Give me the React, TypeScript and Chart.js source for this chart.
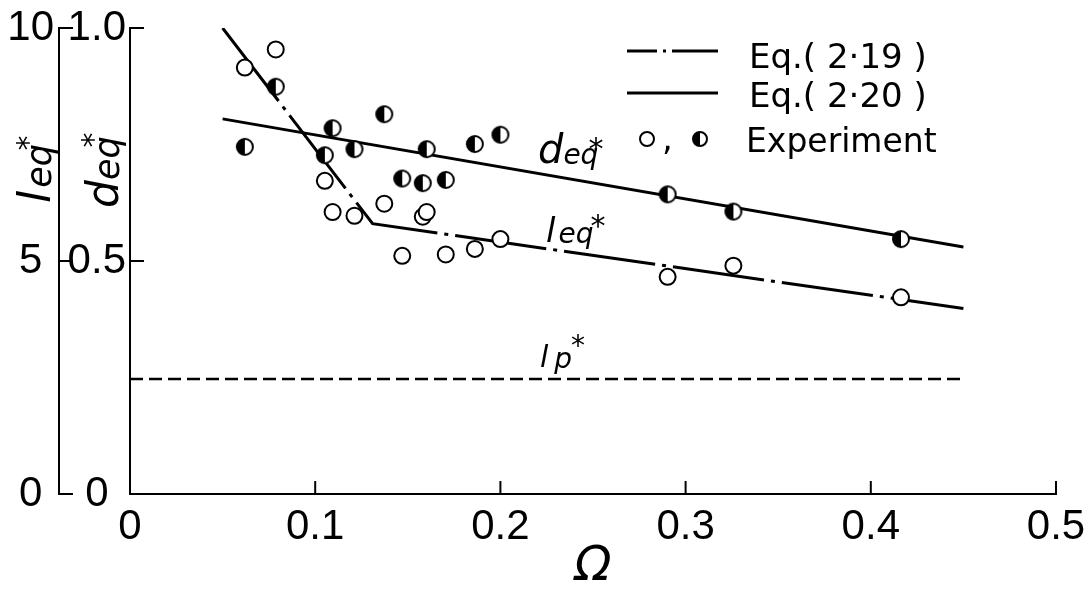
import React, { useEffect, useRef } from "react";
import { Chart, registerables } from "chart.js";

Chart.register(...registerables);

// ---- data ----
const omega = [0.062, 0.0787, 0.1052, 0.1094, 0.1212, 0.1373, 0.147, 0.1581, 0.1602, 0.1705, 0.1862, 0.2, 0.2903, 0.3258, 0.4163];
const deqExp = [0.745, 0.874, 0.727, 0.785, 0.74, 0.815, 0.677, 0.667, 0.74, 0.674, 0.751, 0.771, 0.643, 0.606, 0.547];
const leqExp = [0.915, 0.954, 0.672, 0.605, 0.597, 0.623, 0.511, 0.595, 0.605, 0.514, 0.526, 0.547, 0.466, 0.49, 0.422];

const eq219Omega = [0.05, 0.131, 0.45];
const eq219Values = [1.0, 0.58, 0.398];
const eq220Omega = [0.05, 0.45];
const eq220Values = [0.805, 0.53];
const lpOmega = [0, 0.45];
const lpValues = [0.247, 0.247];

const xTickValues = [0, 0.1, 0.2, 0.3, 0.4, 0.5];
const xTickLabels = ["0", "0.1", "0.2", "0.3", "0.4", "0.5"];
const yTickValues = [0, 0.5, 1.0];
const yTickLabels = ["0", "0.5", "1.0"];
const y2TickValues = [0, 5, 10];
const y2TickLabels = ["0", "5", "10"];

const legendLabels = ["Eq.( 2·19 )", "Eq.( 2·20 )", "Experiment"];

const FONT = "'DejaVu Sans', sans-serif";
const TICK_FONT = "'Liberation Sans', Arial, sans-serif";

function makeHalfMarker(r: number, lw: number): HTMLCanvasElement {
  const s = Math.ceil(2 * r + lw + 2);
  const c = document.createElement("canvas");
  c.width = s;
  c.height = s;
  const g = c.getContext("2d")!;
  drawHalf(g, s / 2, s / 2, r, lw);
  return c;
}

function drawHalf(g: CanvasRenderingContext2D, cx: number, cy: number, r: number, lw: number) {
  g.save();
  g.setLineDash([]);
  g.fillStyle = "#fff";
  g.beginPath();
  g.arc(cx, cy, r, 0, Math.PI * 2);
  g.fill();
  g.fillStyle = "#000";
  g.beginPath();
  g.arc(cx, cy, r, Math.PI / 2, Math.PI * 1.5);
  g.closePath();
  g.fill();
  g.strokeStyle = "#000";
  g.lineWidth = lw;
  g.beginPath();
  g.arc(cx, cy, r, 0, Math.PI * 2);
  g.stroke();
  g.restore();
}

type SymOpt = { base: number; sub: number; star: number; gap: number; starDx: number; starDy: number };

function drawSym(ctx: CanvasRenderingContext2D, x: number, y: number, base: string, sub: string, o: SymOpt) {
  ctx.save();
  ctx.fillStyle = "#000";
  ctx.textAlign = "left";
  ctx.textBaseline = "alphabetic";
  ctx.font = `italic ${o.base}px ${FONT}`;
  ctx.fillText(base, x, y);
  const bw = ctx.measureText(base).width;
  ctx.font = `italic ${o.sub}px ${FONT}`;
  ctx.fillText(sub, x + bw + o.gap, y + 1);
  ctx.font = `${o.star}px ${FONT}`;
  ctx.textAlign = "center";
  ctx.fillText("*", x + o.starDx, y + o.starDy + 0.585 * o.star);
  ctx.restore();
}

const axesPlugin = {
  id: "axesAndNotes",
  afterDatasetsDraw(chart: any) {
    const { ctx, chartArea } = chart;
    const { x, y, y2 } = chart.scales;
    const left = chartArea.left;
    const bottom = chartArea.bottom;
    const line = (x1: number, y1: number, x2: number, y2_: number) => {
      ctx.beginPath();
      ctx.moveTo(x1, y1);
      ctx.lineTo(x2, y2_);
      ctx.stroke();
    };
    ctx.save();
    ctx.strokeStyle = "#000";
    ctx.lineWidth = 2;
    ctx.lineCap = "square";
    ctx.setLineDash([]);
    // inner y axis
    line(left, y.getPixelForValue(1), left, y.getPixelForValue(0));
    yTickValues.forEach((v) => {
      const p = y.getPixelForValue(v);
      line(left, p, left + 13, p);
    });
    // outer y axis
    const ox = y2.right;
    line(ox, y2.getPixelForValue(10), ox, y2.getPixelForValue(0));
    y2TickValues.forEach((v) => {
      const p = y2.getPixelForValue(v);
      line(ox, p, ox + 13, p);
    });
    // x axis
    line(left, bottom, x.getPixelForValue(0.5), bottom);
    xTickValues.forEach((v) => {
      if (v === 0) return;
      const p = x.getPixelForValue(v);
      line(p, bottom, p, bottom - 12);
    });

    // legend
    ctx.lineWidth = 3;
    ctx.lineCap = "butt";
    ctx.setLineDash([30, 6, 3, 6, 60]);
    line(627, 51, 718, 51);
    ctx.setLineDash([]);
    line(627, 93, 718, 93);
    ctx.lineWidth = 2;
    ctx.fillStyle = "#fff";
    ctx.beginPath();
    ctx.arc(647, 139, 7, 0, Math.PI * 2);
    ctx.fill();
    ctx.stroke();
    drawHalf(ctx, 700, 139, 7, 2);
    ctx.fillStyle = "#000";
    ctx.font = `34px ${FONT}`;
    ctx.textAlign = "left";
    ctx.textBaseline = "alphabetic";
    ctx.fillText(",", 662, 150);
    ctx.fillText(legendLabels[0], 749, 68);
    ctx.fillText(legendLabels[1], 749, 107);
    ctx.font = `33px ${FONT}`;
    ctx.fillText(legendLabels[2], 746, 152);

    // curve labels
    drawSym(ctx, 538, 163, "d", "eq", { base: 40, sub: 28, star: 30, gap: 0, starDx: 58, starDy: -22 });
    drawSym(ctx, 546, 242, "l", "eq", { base: 34, sub: 28, star: 30, gap: 3, starDx: 52, starDy: -24 });
    drawSym(ctx, 540, 367, "l", "p", { base: 30, sub: 28, star: 28, gap: 6, starDx: 38, starDy: -28 });

    // rotated axis titles
    ctx.save();
    ctx.translate(50, 203);
    ctx.rotate(-Math.PI / 2);
    drawSym(ctx, 0, 0, "l", "eq", { base: 44, sub: 35, star: 30, gap: 3, starDx: 60, starDy: -30 });
    ctx.restore();
    ctx.save();
    ctx.translate(118, 208);
    ctx.rotate(-Math.PI / 2);
    drawSym(ctx, 0, 0, "d", "eq", { base: 44, sub: 35, star: 30, gap: 0, starDx: 68, starDy: -33 });
    ctx.restore();

    ctx.restore();
  },
};

export default function App() {
  const ref = useRef<HTMLCanvasElement | null>(null);

  useEffect(() => {
    if (!ref.current) return;
    const halfMarker = makeHalfMarker(8, 2);
    const tickFont = { family: TICK_FONT, size: 42, lineHeight: 1.0 };
    const chart = new Chart(ref.current, {
      type: "scatter",
      data: {
        datasets: [
          {
            type: "line",
            label: "Eq.(2·19)",
            data: eq219Omega.map((v, i) => ({ x: v, y: eq219Values[i] })),
            borderColor: "#000",
            borderWidth: 3,
            borderDash: [92, 7, 4, 7],
            pointRadius: 0,
            fill: false,
            tension: 0,
            order: 3,
            yAxisID: "y",
          } as any,
          {
            type: "line",
            label: "Eq.(2·20)",
            data: eq220Omega.map((v, i) => ({ x: v, y: eq220Values[i] })),
            borderColor: "#000",
            borderWidth: 3,
            pointRadius: 0,
            fill: false,
            tension: 0,
            order: 3,
            yAxisID: "y",
          } as any,
          {
            type: "line",
            label: "lp*",
            data: lpOmega.map((v, i) => ({ x: v, y: lpValues[i] })),
            borderColor: "#000",
            borderWidth: 2.5,
            borderDash: [13, 6],
            pointRadius: 0,
            fill: false,
            order: 3,
            yAxisID: "y",
          } as any,
          {
            type: "scatter",
            label: "deq* experiment",
            data: omega.map((v, i) => ({ x: v, y: deqExp[i] })),
            pointStyle: halfMarker,
            pointRadius: 9,
            order: 1,
            yAxisID: "y",
          } as any,
          {
            type: "scatter",
            label: "leq* experiment",
            data: omega.map((v, i) => ({ x: v, y: leqExp[i] })),
            pointStyle: "circle",
            pointRadius: 8,
            borderWidth: 2,
            borderColor: "#000",
            backgroundColor: "#fff",
            order: 1,
            yAxisID: "y",
          } as any,
        ],
      },
      options: {
        animation: false,
        responsive: false,
        events: [],
        layout: { padding: { top: 28, right: 36, left: 0, bottom: 0 } },
        plugins: { legend: { display: false }, tooltip: { enabled: false } },
        scales: {
          x: {
            type: "linear",
            position: "bottom",
            min: 0,
            max: 0.5,
            afterBuildTicks: (s: any) => {
              s.ticks = xTickValues.map((v) => ({ value: v }));
            },
            afterFit: (s: any) => {
              s.height = 99;
            },
            grid: { display: false },
            border: { display: false },
            ticks: {
              color: "#000",
              font: tickFont,
              padding: 4,
              maxRotation: 0,
              autoSkip: false,
              callback: (_v: any, i: number) => xTickLabels[i],
            },
            title: {
              display: true,
              text: "Ω",
              color: "#000",
              font: { family: FONT, size: 48, style: "italic", lineHeight: 1 },
              padding: { top: 0, bottom: 1 },
            },
          },
          y: {
            type: "linear",
            position: "left",
            weight: 0,
            min: 0,
            max: 1,
            afterBuildTicks: (s: any) => {
              s.ticks = yTickValues.map((v) => ({ value: v }));
            },
            afterFit: (s: any) => {
              s.width = 71;
            },
            grid: { display: false },
            border: { display: false },
            ticks: {
              color: "#000",
              font: tickFont,
              padding: -4,
              crossAlign: "center",
              autoSkip: false,
              callback: (_v: any, i: number) => yTickLabels[i],
            },
          },
          y2: {
            type: "linear",
            position: "left",
            weight: 1,
            min: 0,
            max: 10,
            afterBuildTicks: (s: any) => {
              s.ticks = y2TickValues.map((v) => ({ value: v }));
            },
            afterFit: (s: any) => {
              s.width = 59;
            },
            grid: { display: false },
            border: { display: false },
            ticks: {
              color: "#000",
              font: tickFont,
              padding: -3,
              crossAlign: "center",
              autoSkip: false,
              callback: (_v: any, i: number) => y2TickLabels[i],
            },
          },
        },
      } as any,
      plugins: [axesPlugin],
    });
    return () => chart.destroy();
  }, []);

  return (
    <div style={{ position: "fixed", left: 0, top: 0, width: 1092, height: 593, background: "#fff" }}>
      <canvas ref={ref} width={1092} height={593} style={{ display: "block", width: 1092, height: 593 }} />
    </div>
  );
}
